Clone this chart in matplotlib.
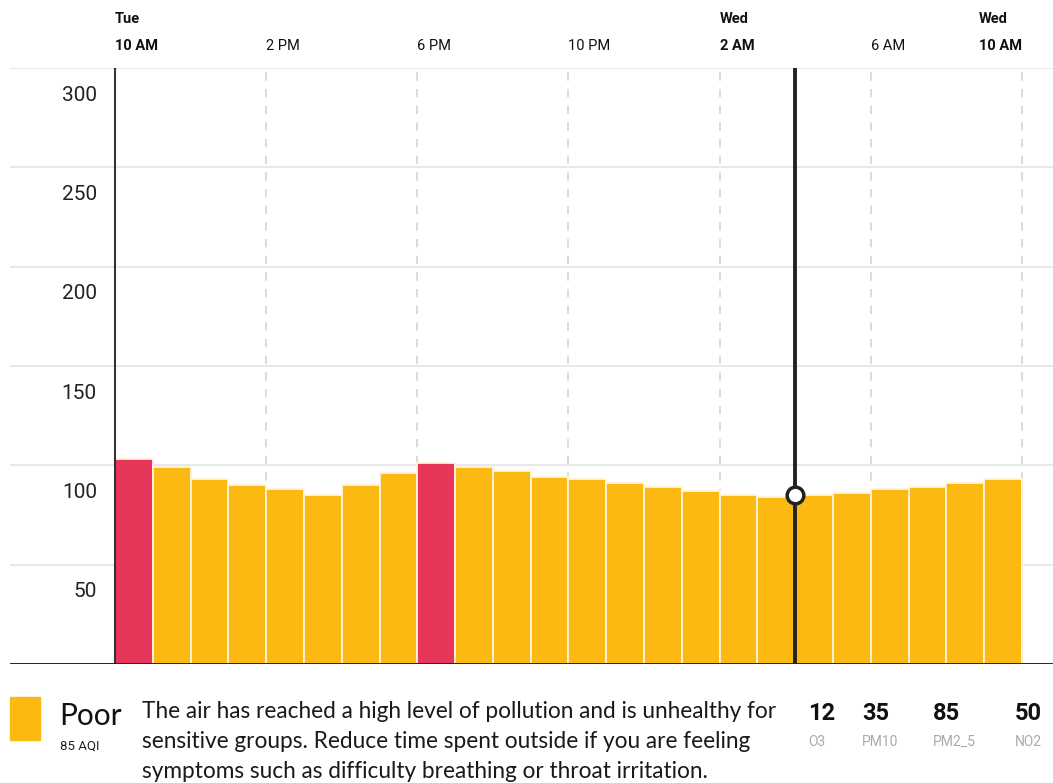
import matplotlib
matplotlib.use('Agg')
import matplotlib.pyplot as plt
from matplotlib.patches import Rectangle
import matplotlib.transforms as mtransforms

W, H = 1053, 783

# hourly AQI from Tue 10 AM to Wed 10 AM
aqi = [103, 99, 93, 90, 88, 85, 90, 96, 101, 99, 97, 94,
       93, 91, 89, 87, 85, 84, 85, 86, 88, 89, 91, 93]
tick_hours = [0, 4, 8, 12, 16, 20, 24]
tick_times = ['10 AM', '2 PM', '6 PM', '10 PM', '2 AM', '6 AM', '10 AM']
tick_days = ['Tue', '', '', '', 'Wed', '', 'Wed']
y_ticks = [50, 100, 150, 200, 250, 300]
cursor_hour = 18
cursor_value = 85

status = 'Poor'
status_aqi = '85 AQI'
description = [
    'The air has reached a high level of pollution and is unhealthy for',
    'sensitive groups. Reduce time spent outside if you are feeling',
    'symptoms such as difficulty breathing or throat irritation.',
]
pollutants = ['O3', 'PM10', 'PM2_5', 'NO2']
pollutant_values = [12, 35, 85, 50]

YELLOW = '#FBB912'
RED = '#E8365B'

plt.rcParams['font.family'] = ['Roboto', 'DejaVu Sans']


def fx(px):
    return px / W


def fy(py):
    return 1 - py / H


fig = plt.figure(figsize=(W / 100, H / 100), dpi=100)
ax = fig.add_axes([fx(10), fy(664), fx(1043), 596 / H])
ax.set_xlim(-2.778, 24.82)
ax.set_ylim(0, 300)
ax.axis('off')

# horizontal grid
for v in y_ticks:
    ax.axhline(v, color='#e6e6e6', lw=1.3, zorder=0)
    ax.annotate(str(v), xy=(-0.48, v), xytext=(0, -19.5), textcoords='offset points',
                ha='right', va='center', fontsize=15, color='#222222')

# dashed vertical grid at ticks
for h in tick_hours[1:]:
    ax.axvline(h, color='#d4d4d4', lw=1.2, ls=(0, (5, 5)), zorder=0)

colors = [RED if v > 100 else YELLOW for v in aqi]
ax.bar(range(len(aqi)), aqi, width=1.0, align='edge', color=colors,
       edgecolor='#fff4dd', linewidth=1.3, zorder=2)

ax.axvline(0, color='#333333', lw=1.5, zorder=3)
ax.axhline(0, color='#111111', lw=2, zorder=4)

# cursor
ax.axvline(cursor_hour, color='#222222', lw=2.8, zorder=5)
ax.plot([cursor_hour], [cursor_value], marker='o', ms=12, mfc='white',
        mec='#222222', mew=2.5, zorder=6)

# top tick labels
top = mtransforms.blended_transform_factory(ax.transData, ax.transAxes)
for i, (h, t, d) in enumerate(zip(tick_hours, tick_times, tick_days)):
    ha = 'right' if i == len(tick_hours) - 1 else 'left'
    weight = 'bold' if d else 'normal'
    lbl = ax.annotate(t, xy=(h, 1), xycoords=top, xytext=(0, 15.8), textcoords='offset points',
                      ha=ha, va='center', fontsize=10.5, fontweight=weight, color='#111111',
                      annotation_clip=False)
    if d:
        ax.annotate(d, xy=(0, 0.5), xycoords=lbl, xytext=(0, 19.5), textcoords='offset points',
                    ha='left', va='center', fontsize=10.5,
                    fontweight='bold', color='#111111', annotation_clip=False)

# bottom panel
fig.patches.append(Rectangle((fx(10), fy(740)), fx(30), 43 / H, color=YELLOW,
                             transform=fig.transFigure, figure=fig))
fig.text(fx(59), fy(716), status, fontsize=21.5, family=['Lato', 'DejaVu Sans'],
         va='center', ha='left', color='#111111')
fig.text(fx(60), fy(746), status_aqi, fontsize=9.5, va='center', ha='left', color='#222222')
for k, line in enumerate(description):
    fig.text(fx(142), fy(712 + 29.5 * k), line, fontsize=16.3, family=['Lato', 'DejaVu Sans'],
             va='center', ha='left', color='#1a1a1a')

px_x = [808, 862, 933, 1015]
for x, name, val in zip(px_x, pollutants, pollutant_values):
    fig.text(fx(x), fy(713), str(val), fontsize=17, fontweight='bold',
             va='center', ha='left', color='#111111')
    fig.text(fx(x), fy(742), name, fontsize=10, va='center', ha='left', color='#aaaaaa')

fig.savefig('out.png', dpi=100)
